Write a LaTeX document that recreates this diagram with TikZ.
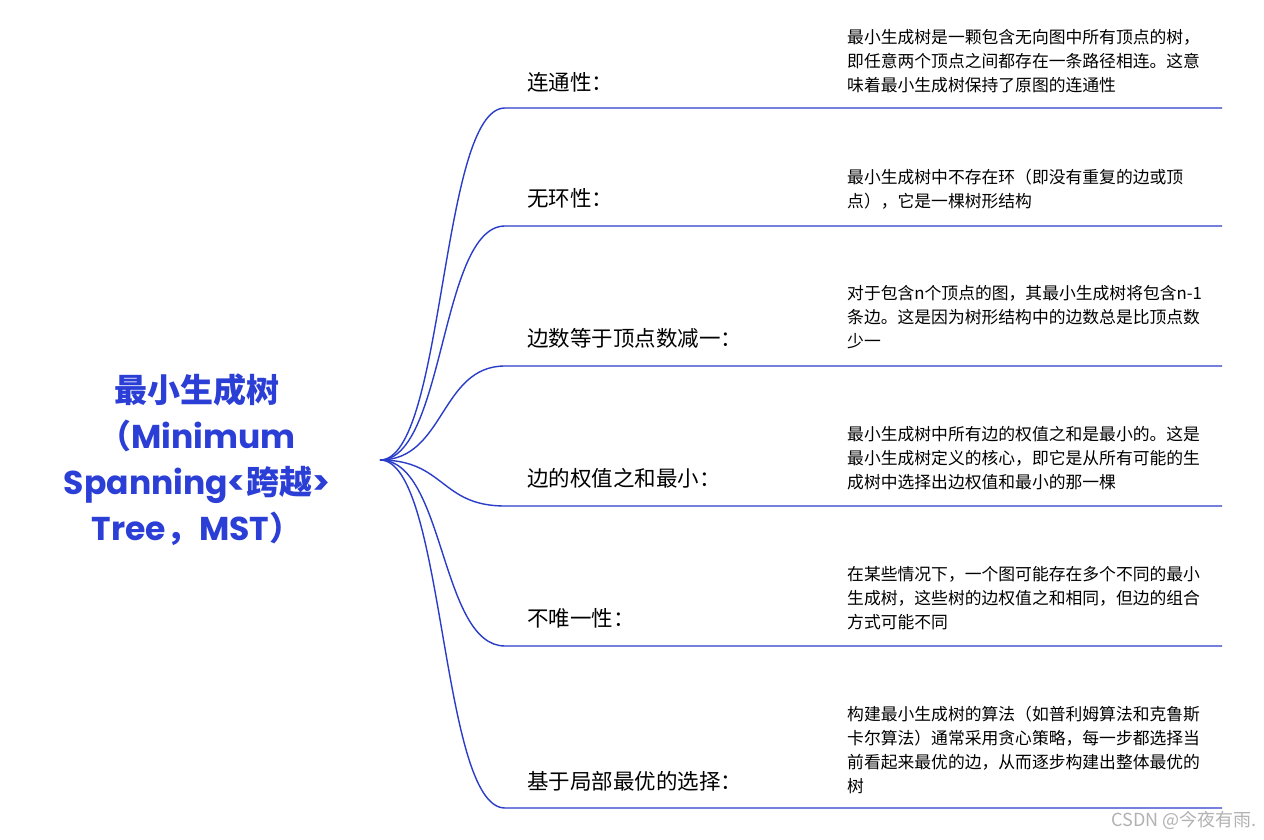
\documentclass[tikz,border=0pt]{standalone}
\usepackage{fontspec}
\setmainfont{Noto Sans CJK SC}
\newfontfamily\rootfont{Poppins}
\newfontfamily\cjk{Noto Sans CJK SC}
\definecolor{mblue}{HTML}{2B3ED6}
\definecolor{lblue}{HTML}{2A3DC9}
\begin{document}
\begin{tikzpicture}[x=1pt,y=-1pt,
  lab/.style={anchor=west,font=\fontsize{21.5}{24}\selectfont,inner sep=0pt},
  desc/.style={anchor=north west,font=\fontsize{16.8}{24}\selectfont,inner sep=0pt,align=left},
  br/.style={draw=lblue,line width=1.4pt}]
\useasboundingbox (0,0) rectangle (1264,840);
\fill[white] (0,0) rectangle (1264,840);
\node[font=\fontsize{33}{46}\selectfont\bfseries,text=mblue,align=center] (root) at (197,460)
 {{\cjk 最小生成树}\\{\cjk（}{\rootfont Minimum}\\{\rootfont Spanning<}{\cjk 跨越}{\rootfont >}\\{\rootfont Tree}{\cjk ，}{\rootfont MST}{\cjk ）}};
\coordinate (o) at (380,460);
\foreach \i/\y/\t/\ly/\dy/\d in {
 1/108/连通性：/82/29/{最小生成树是一颗包含无向图中所有顶点的树，\\即任意两个顶点之间都存在一条路径相连。这意\\味着最小生成树保持了原图的连通性},
 2/226/无环性：/198/169/{最小生成树中不存在环（即没有重复的边或顶\\点），它是一棵树形结构},
 3/366/边数等于顶点数减一：/338/285/{对于包含n个顶点的图，其最小生成树将包含n-1\\条边。这是因为树形结构中的边数总是比顶点数\\少一},
 4/506/边的权值之和最小：/478/426/{最小生成树中所有边的权值之和是最小的。这是\\最小生成树定义的核心，即它是从所有可能的生\\成树中选择出边权值和最小的那一棵},
 5/646/不唯一性：/618/566/{在某些情况下，一个图可能存在多个不同的最小\\生成树，这些树的边权值之和相同，但边的组合\\方式可能不同},
 6/808/基于局部最优的选择：/781/706/{构建最小生成树的算法（如普利姆算法和克鲁斯\\卡尔算法）通常采用贪心策略，每一步都选择当\\前看起来最优的边，从而逐步构建出整体最优的\\树}}{
  \coordinate (s\i) at (505,\y);
  \coordinate (e\i) at (1222,\y);
  \draw[br] (o) .. controls (445,460) and (440,\y) .. (s\i) -- (e\i);
  \node[lab] (l\i) at (527,\ly) {\t};
  \node[desc] (d\i) at (847,\dy) {\d};
}
\node[anchor=east,text=gray!60,font=\fontsize{18}{20}\selectfont] (wm) at (1260,820) {CSDN @今夜有雨.};
\end{tikzpicture}
\end{document}
